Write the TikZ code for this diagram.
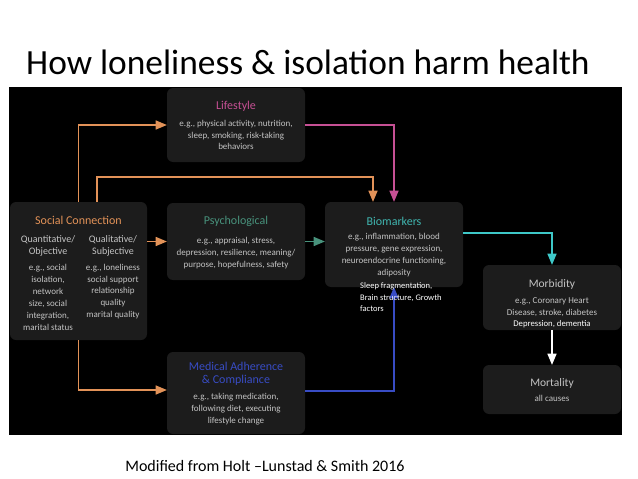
\documentclass[tikz,border=0pt]{standalone}
\usepackage{fontspec}
\setmainfont{Carlito}
\usepackage{tikz}
\usetikzlibrary{arrows}

\begin{document}
\begin{tikzpicture}[x=1pt,y=-1pt,
  boxNode/.style={fill=boxColor,rounded corners=6pt,inner sep=0pt,minimum width=138pt},
  headText/.style={font=\fontsize{12}{13}\selectfont,align=center,inner sep=0pt},
  bodyText/.style={font=\fontsize{9}{11.9}\selectfont,align=center,color=bodyColor,inner sep=0pt},
  noteText/.style={font=\fontsize{8.5}{11.5}\selectfont,color=white,inner sep=0pt},
  link/.style={line width=1.6pt,->,>=triangle 45}]
\definecolor{boxColor}{RGB}{28,28,28}
\definecolor{bodyColor}{RGB}{196,196,196}
\definecolor{orangeColor}{RGB}{226,146,88}
\definecolor{pinkColor}{RGB}{198,80,148}
\definecolor{psyColor}{RGB}{72,146,124}
\definecolor{bioColor}{RGB}{64,182,176}
\definecolor{cyanColor}{RGB}{62,200,200}
\definecolor{blueColor}{RGB}{56,76,196}
\useasboundingbox (0,0) rectangle (638,479);
\fill[white] (0,0) rectangle (638,479);
\node[font=\fontsize{35.4}{38}\selectfont,inner sep=0pt] (title) at (308,62) {How loneliness \& isolation harm health};
\fill[black] (9,87) rectangle (622,435);
\node[boxNode,minimum height=74pt] (life) at (236,125) {};
\node[boxNode,minimum width=137pt,minimum height=138pt] (social) at (78.5,271) {};
\node[boxNode,minimum height=77pt] (psych) at (236,241.5) {};
\node[boxNode,minimum height=85pt] (bio) at (394,244.5) {};
\node[boxNode,minimum height=82pt] (med) at (236,393) {};
\node[boxNode,minimum height=65pt] (morb) at (552,297.5) {};
\node[boxNode,minimum height=49pt] (mort) at (552,389.5) {};
\node[headText,color=pinkColor] (lifeHead) at (236,106) {Lifestyle};
\node[bodyText] (lifeBody) at (236,135) {e.g., physical activity, nutrition,\\sleep, smoking, risk-taking\\behaviors};
\node[headText,color=orangeColor] (socialHead) at (78.5,220) {Social Connection};
\node[headText,color=bodyColor,font=\fontsize{10}{12}\selectfont] (quantHead) at (48,246) {Quantitative/\\Objective};
\node[headText,color=bodyColor,font=\fontsize{10}{12}\selectfont] (qualHead) at (113,246) {Qualitative/\\Subjective};
\node[bodyText] (quantBody) at (48,297.5) {e.g., social\\isolation,\\network\\size, social\\integration,\\marital status};
\node[bodyText] (qualBody) at (113,291.5) {e.g., loneliness\\social support\\relationship\\quality\\marital quality};
\node[headText,color=psyColor] (psychHead) at (236,221) {Psychological};
\node[bodyText] (psychBody) at (236,253) {e.g., appraisal, stress,\\depression, resilience, meaning/\\purpose, hopefulness, safety};
\node[headText,color=bioColor] (bioHead) at (394,221) {Biomarkers};
\node[bodyText] (bioBody) at (394,255) {e.g., inflammation, blood\\pressure, gene expression,\\neuroendocrine functioning,\\adiposity};
\node[headText,color=blueColor] (medHead) at (236,373.5) {Medical Adherence\\\& Compliance};
\node[bodyText] (medBody) at (236,409) {e.g., taking medication,\\following diet, executing\\lifestyle change};
\node[headText,color=bodyColor,font=\fontsize{11.5}{13}\selectfont] (morbHead) at (552,284) {Morbidity};
\node[bodyText] (morbBody) at (552,307) {e.g., Coronary Heart\\Disease, stroke, diabetes};
\node[noteText,font=\fontsize{8.7}{11}\selectfont] (morbNote) at (552,324) {Depression, dementia};
\node[headText,color=bodyColor,font=\fontsize{11.5}{13}\selectfont] (mortHead) at (552,383) {Mortality};
\node[bodyText] (mortBody) at (552,398) {all causes};
\draw[link,orangeColor] (social.north) |- (life.west);
\draw[link,orangeColor] ([xshift=18.5pt]social.north) |- ([xshift=-21pt,yshift=25pt]bio.north) -- ([xshift=-21pt]bio.north);
\draw[link,pinkColor] (life.east) -| (bio.north);
\draw[link,orangeColor] (social.east |- psych.west) -- (psych.west);
\draw[link,psyColor] (psych.east) -- (bio.west |- psych.east);
\draw[link,cyanColor] ([yshift=11.5pt]bio.east) -| (morb.north);
\draw[link,orangeColor] (social.south) |- ([yshift=3pt]med.west);
\draw[link,blueColor] ([yshift=2pt]med.east) -| (bio.south);
\draw[link,white] (morb.south) -- (mort.north);
\node[noteText,align=left,anchor=west] (bioNote) at (360,297.5) {Sleep fragmentation,\\Brain structure, Growth\\factors};
\node[font=\fontsize{16}{18}\selectfont,inner sep=0pt] (caption) at (265,466) {Modified from Holt –Lunstad \& Smith 2016};
\end{tikzpicture}
\end{document}
